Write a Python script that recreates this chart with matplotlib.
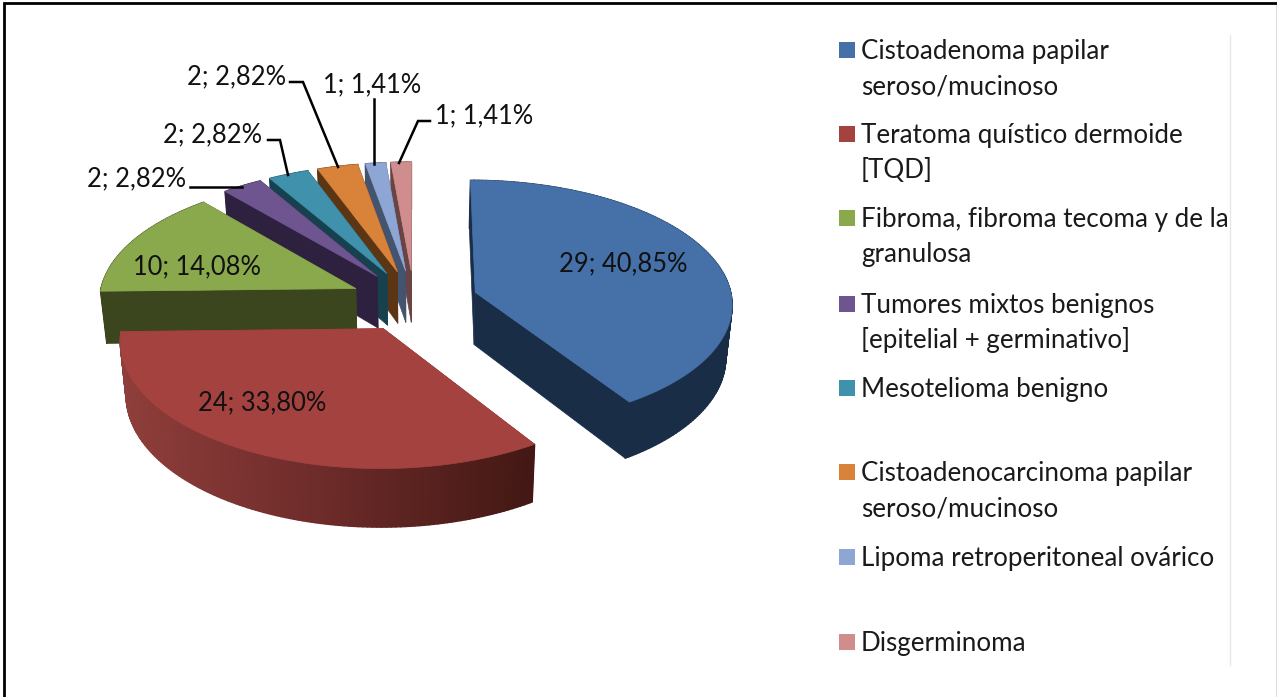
#!/usr/bin/env python
"""Exploded 3D pie of benign/malignant ovarian tumours, with a hand-placed legend on the right."""
import numpy as np
import matplotlib as mpl
mpl.use("Agg")
import matplotlib.pyplot as plt
from matplotlib.colors import LinearSegmentedColormap, to_rgba
from matplotlib.collections import PolyCollection
from matplotlib.patches import Polygon, Rectangle

plt.rcParams["font.family"] = ["Lato", "DejaVu Sans"]

# data
names = ["Cistoadenoma papilar\nseroso/mucinoso", "Teratoma quístico dermoide\n[TQD]",
         "Fibroma, fibroma tecoma y de la\ngranulosa", "Tumores mixtos benignos\n[epitelial + germinativo]",
         "Mesotelioma benigno", "Cistoadenocarcinoma papilar\nseroso/mucinoso",
         "Lipoma retroperitoneal ovárico", "Disgerminoma"]
counts = [29, 24, 10, 2, 2, 2, 1, 1]
percents = [40.85, 33.80, 14.08, 2.82, 2.82, 2.82, 1.41, 1.41]

# style
TOP = ["#4570a8", "#a44240", "#8aa94d", "#6f5590", "#3f91ac", "#d9823a", "#8ea6d3", "#cf8e8d"]
SIDE = ["#1a2d47", "#7a302e", "#3b451e", "#2e2140", "#17414f", "#5c3515", "#44536e", "#6a4443"]
RED_RIM = LinearSegmentedColormap.from_list("red_rim", ["#8f3e3b", "#6c2b29", "#431814"])
LEGEND_Y = [50, 134, 218, 304, 388, 472, 557, 642]
LABEL_XY = [(623, 264, "center"), (262, 403, "center"), (197, 267, "center"), (186, 179, "right"),
            (262, 135, "right"), (286, 77, "right"), (372, 85, "center"), (484, 116, "center")]
LEADERS = {3: [(190, 187), (242, 187)], 4: [(268, 140), (280, 140), (288, 175)],
           5: [(290, 82), (303, 82), (338, 167)], 6: [(374, 99), (374, 164)],
           7: [(430, 121), (418, 121), (399, 163)]}

# projection of the pie (unit radius) onto the picture
CX, CY = 414, 301
RX, RY = 257, 123
PERSP = 0.085
EXPLODE = 0.25
DEPTH = 52.5


def project(u, w, low=False):
    s = 1 / (1 - PERSP * w)
    x, y = RX * u * s, RY * w * s
    if low:
        return CX + x * 0.98, CY + y + DEPTH * s
    return CX + x, CY + y


def draw_slice(ax, a0, a1, i):
    mid = (a0 + a1) / 2
    du, dw = EXPLODE * np.sin(mid), -EXPLODE * np.cos(mid)
    t = np.linspace(a0, a1, max(int((a1 - a0) * 60), 4))
    u, w = du + np.sin(t), dw - np.cos(t)
    ax_top = np.column_stack(project(u, w))
    ax_low = np.column_stack(project(u, w, low=True))
    apex_top = np.array(project(du, dw))
    apex_low = np.array(project(du, dw, low=True))

    # radial walls first, the rim over them, the top face last
    for k in (0, -1):
        ax.add_patch(Polygon([apex_top, ax_top[k], ax_low[k], apex_low], fc=SIDE[i], ec=SIDE[i], lw=0.5))
    quads = [[ax_top[k], ax_top[k + 1], ax_low[k + 1], ax_low[k]] for k in range(len(t) - 1)]
    if i == 1:
        pos = (ax_top[:-1, 0] - ax_top[:, 0].min()) / np.ptp(ax_top[:, 0])
        cols = RED_RIM(pos)
    else:
        cols = [to_rgba(SIDE[i])] * len(quads)
    ax.add_collection(PolyCollection(quads, facecolors=cols, edgecolors=cols, linewidths=1.0))
    ax.add_patch(Polygon(np.vstack([apex_top, ax_top]), fc=TOP[i], ec=TOP[i], lw=0.5))


def main():
    fig = plt.figure(figsize=(12.77, 6.97), dpi=100)
    ax = fig.add_axes([0, 0, 1, 1])
    ax.set_xlim(0, 1277)
    ax.set_ylim(697, 0)
    ax.set_axis_off()

    # picture frame, open at the bottom
    ax.plot([3.5, 3.5, 1277], [697, 2.5, 2.5], color="black", lw=2.0, solid_joinstyle="miter")
    ax.plot([1276.5, 1276.5], [3, 697], color="#555555", lw=1.0)

    edges = 2 * np.pi * np.r_[0, np.cumsum(counts)] / sum(counts)
    # far slices first, then blue and red in front
    for i in [7, 6, 5, 4, 3, 2, 0, 1]:
        draw_slice(ax, edges[i], edges[i + 1], i)

    for i in range(len(counts)):
        x, y, ha = LABEL_XY[i]
        ax.text(x, y, f"{counts[i]}; {percents[i]:.2f}%".replace(".", ","), ha=ha, va="center",
                fontsize=18.4, color="#111111")
    for pts in LEADERS.values():
        ax.plot(*zip(*pts), color="black", lw=1.8, solid_joinstyle="miter")

    # legend
    ax.plot([1230, 1230], [35, 665], color="#e6e6e6", lw=1)
    for i, name in enumerate(names):
        ax.add_patch(Rectangle((839, LEGEND_Y[i] - 8), 16, 16, fc=TOP[i], ec="none"))
        for j, line in enumerate(name.split("\n")):
            ax.text(861, LEGEND_Y[i] + 9 + 35 * j, line, ha="left", va="baseline", fontsize=18.7, color="#1a1a1a")

    fig.savefig("out.png", dpi=100)
    plt.close(fig)


if __name__ == "__main__":
    main()
